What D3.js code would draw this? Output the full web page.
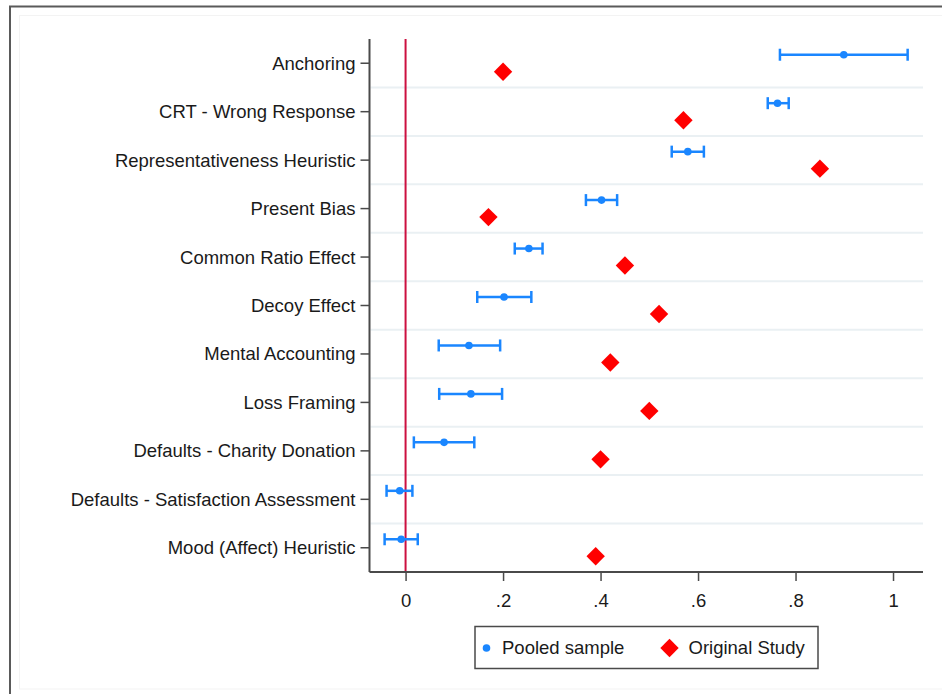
<!DOCTYPE html>
<html>
<head>
<meta charset="utf-8">
<script src="https://cdn.jsdelivr.net/npm/d3@7"></script>
<style>
  html, body { margin: 0; padding: 0; background: #fff; }
  svg { display: block; font-family: "Liberation Sans", Arial, sans-serif; }
</style>
</head>
<body>
<svg id="chart" width="942" height="694"></svg>
<script>
// Bias measures (top to bottom)
const categories = [
  "Anchoring",
  "CRT - Wrong Response",
  "Representativeness Heuristic",
  "Present Bias",
  "Common Ratio Effect",
  "Decoy Effect",
  "Mental Accounting",
  "Loss Framing",
  "Defaults - Charity Donation",
  "Defaults - Satisfaction Assessment",
  "Mood (Affect) Heuristic"
];
// Pooled sample: point estimate with 95% CI
const pooledEst = [0.899, 0.763, 0.579, 0.402, 0.253, 0.202, 0.130, 0.134, 0.079, -0.012, -0.009];
const pooledLo  = [0.768, 0.743, 0.546, 0.370, 0.224, 0.147, 0.068, 0.069, 0.017, -0.039, -0.043];
const pooledHi  = [1.030, 0.786, 0.612, 0.434, 0.281, 0.258, 0.194, 0.198, 0.141, 0.014, 0.025];
// Original study estimates (null where not reported)
const original  = [0.20, 0.57, 0.85, 0.17, 0.45, 0.52, 0.42, 0.50, 0.40, null, 0.39];
const xTicks = [0, 0.2, 0.4, 0.6, 0.8, 1];
const legendLabels = ["Pooled sample", "Original Study"];

(function () {
const blue = "#1a86ff";
const red = "#ff0000";
const axisColor = "#4a4a4a";
const textColor = "#1a1a1a";
const fontSize = "18.5px";
const fontFamily = '"Liberation Sans", Arial, sans-serif';

const svg = d3.select("#chart");

// Outer graph frame and faint inner region
svg.append("rect").attr("x", 10).attr("y", 6.5).attr("width", 1000).attr("height", 1000)
  .attr("fill", "none").attr("stroke", "#5a5a5a").attr("stroke-width", 2);
svg.append("rect").attr("x", 19.5).attr("y", 15.5).attr("width", 1000).attr("height", 673.5)
  .attr("fill", "none").attr("stroke", "#f3f3f3").attr("stroke-width", 1);

const pTop = 39, pBottom = 572, pLeft = 369.5, pRight = 923;

const x = d3.scaleLinear().domain([-0.074, 1.0615]).range([pLeft, pRight]);
const y = d3.scaleBand().domain(categories).range([pTop, pBottom]).paddingInner(0).paddingOuter(0);
const bw = y.bandwidth();

// Horizontal gridlines between rows
svg.append("g").selectAll("line")
  .data(categories.slice(1))
  .join("line")
  .attr("x1", pLeft + 1).attr("x2", pRight)
  .attr("y1", d => y(d)).attr("y2", d => y(d))
  .attr("stroke", "#eaf0f3").attr("stroke-width", 2);

// Reference line at zero
svg.append("line")
  .attr("x1", x(0)).attr("x2", x(0)).attr("y1", pTop).attr("y2", pBottom)
  .attr("stroke", "#cc1040").attr("stroke-width", 2);

// Y axis
const yAxis = svg.append("g")
  .attr("transform", `translate(${pLeft},0)`)
  .call(d3.axisLeft(y).tickSize(9).tickPadding(5));
yAxis.select(".domain").attr("stroke", axisColor).attr("stroke-width", 2).attr("d", `M0,${pTop}V${pBottom}`);
yAxis.selectAll(".tick line").attr("stroke", axisColor).attr("stroke-width", 1.5);
yAxis.selectAll(".tick text").attr("fill", textColor).style("font-size", fontSize)
  .style("font-family", fontFamily).attr("dy", "0.35em");

// X axis
const fmt = d => (d === 0 ? "0" : d === 1 ? "1" : String(d).replace(/^0\./, "."));
const xAxis = svg.append("g")
  .attr("transform", `translate(0,${pBottom})`)
  .call(d3.axisBottom(x).tickValues(xTicks).tickFormat(fmt).tickSize(9).tickPadding(13));
xAxis.select(".domain").attr("stroke", axisColor).attr("stroke-width", 2).attr("d", `M${pLeft},0H${pRight}`);
xAxis.selectAll(".tick line").attr("stroke", axisColor).attr("stroke-width", 1.5);
xAxis.selectAll(".tick text").attr("fill", textColor).style("font-size", fontSize)
  .style("font-family", fontFamily);

const rows = categories.map((c, i) => ({
  cat: c, est: pooledEst[i], lo: pooledLo[i], hi: pooledHi[i], orig: original[i]
}));

const blueOff = -8.5, redOff = 8.5, cap = 6;

// Confidence intervals
const ci = svg.append("g").attr("stroke", blue).attr("stroke-width", 2.5).attr("fill", "none");
ci.selectAll("line.bar").data(rows).join("line").attr("class", "bar")
  .attr("x1", d => x(d.lo)).attr("x2", d => x(d.hi))
  .attr("y1", d => y(d.cat) + bw / 2 + blueOff).attr("y2", d => y(d.cat) + bw / 2 + blueOff);
ci.selectAll("line.lo").data(rows).join("line").attr("class", "lo")
  .attr("x1", d => x(d.lo)).attr("x2", d => x(d.lo))
  .attr("y1", d => y(d.cat) + bw / 2 + blueOff - cap).attr("y2", d => y(d.cat) + bw / 2 + blueOff + cap);
ci.selectAll("line.hi").data(rows).join("line").attr("class", "hi")
  .attr("x1", d => x(d.hi)).attr("x2", d => x(d.hi))
  .attr("y1", d => y(d.cat) + bw / 2 + blueOff - cap).attr("y2", d => y(d.cat) + bw / 2 + blueOff + cap);

// Pooled point estimates
svg.append("g").selectAll("circle").data(rows).join("circle")
  .attr("cx", d => x(d.est)).attr("cy", d => y(d.cat) + bw / 2 + blueOff)
  .attr("r", 3.8).attr("fill", blue);

// Original study diamonds
const diamond = s => `M0,${-s}L${s},0L0,${s}L${-s},0Z`;
svg.append("g").selectAll("path").data(rows.filter(d => d.orig !== null)).join("path")
  .attr("d", diamond(9.2))
  .attr("transform", d => `translate(${x(d.orig)},${y(d.cat) + bw / 2 + redOff})`)
  .attr("fill", red);

// Legend
const lg = svg.append("g");
lg.append("rect").attr("x", 475).attr("y", 626.5).attr("width", 343).attr("height", 42)
  .attr("fill", "#fff").attr("stroke", axisColor).attr("stroke-width", 1.5);
lg.append("circle").attr("cx", 486.5).attr("cy", 648).attr("r", 3.8).attr("fill", blue);
lg.append("text").attr("x", 502).attr("y", 648).attr("dy", "0.35em").attr("fill", textColor)
  .style("font-size", fontSize).style("font-family", fontFamily).text(legendLabels[0]);
lg.append("path").attr("d", diamond(9.2)).attr("transform", "translate(669.5,648)").attr("fill", red);
lg.append("text").attr("x", 688.5).attr("y", 648).attr("dy", "0.35em").attr("fill", textColor)
  .style("font-size", fontSize).style("font-family", fontFamily).text(legendLabels[1]);
})();
</script>
</body>
</html>
